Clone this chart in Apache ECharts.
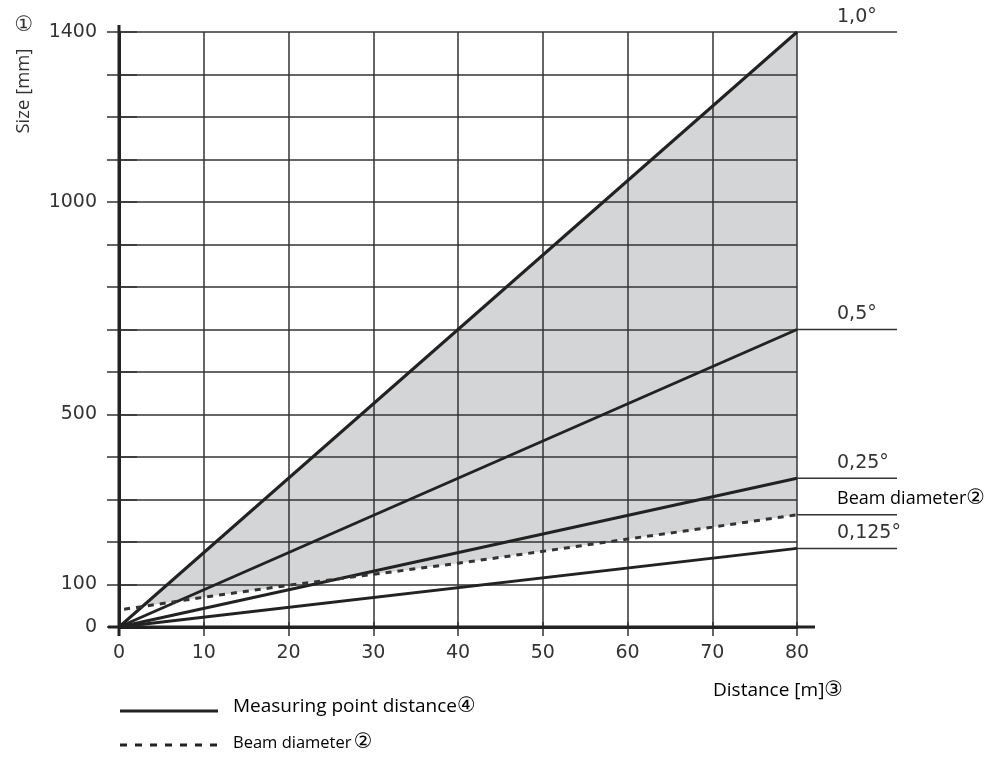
<!DOCTYPE html>
<html>
<head>
<meta charset="utf-8">
<script src="https://cdn.jsdelivr.net/npm/echarts/dist/echarts.min.js"></script>
<style>html,body{margin:0;padding:0;background:#fff}#c{width:1008px;height:758px}</style>
</head>
<body>
<div id="c"></div>
<script>
// ---- data ----
const maxDistance = 80;
const maxSize = 1400;
const sizeTickLabels = [0, 100, 500, 1000, 1400];
const angleNames = ['1,0°', '0,5°', '0,25°', '0,125°'];
const angleSizeAt80 = [1400, 700, 350, 185];
const beamDistance = [0.6, 2.75, 10, 20, 30, 40, 50, 60, 70, 80];
const beamSize = [42, 48, 70, 98, 124, 150, 178, 207, 235, 264];
const beamLabel = 'Beam diameter';
const fillStartDistance = 2.75;

const TXT = '#333';
const LINE = '#222';
const GRID = '#333';
const NUMFONT = "'DejaVu Sans', sans-serif";
const WORDFONT = "'Open Sans', 'DejaVu Sans', sans-serif";
const CIRC = {fontFamily: "'DejaVu Sans', sans-serif", fontSize: 21, color: TXT};

const chart = echarts.init(document.getElementById('c'), null, {renderer: 'canvas'});

const fillTop = [[fillStartDistance, beamSize[1]], [maxDistance, angleSizeAt80[0]]];
const fillBottom = beamDistance.map((d, i) => [d, beamSize[i]]).filter(p => p[0] >= fillStartDistance).reverse();

const angleSeries = angleSizeAt80.map((v, i) => ({
  type: 'line', name: angleNames[i], data: [[0, 0], [maxDistance, v]],
  symbol: 'none', silent: true, z: 5,
  lineStyle: {color: LINE, width: 3}
}));

const labelData = angleSizeAt80.map((v, i) => [maxDistance, v, i]).concat([[maxDistance, beamSize[beamSize.length - 1], 4]]);
const labelTexts = angleNames.concat([beamLabel]);

function wordText(x, y, words, circ, size, gap) {
  return {type: 'text', x: x, y: y, style: {
    text: '{w|' + words + '}' + (gap ? '{s| }' : '') + '{c|' + circ + '}',
    align: 'left', verticalAlign: 'middle',
    rich: {
      w: {fontFamily: WORDFONT, fontSize: size, color: TXT},
      s: {fontFamily: WORDFONT, fontSize: size * 0.5, color: TXT},
      c: CIRC
    }
  }};
}

const option = {
  animation: false,
  backgroundColor: '#fff',
  grid: {left: 119, right: 211, top: 32, bottom: 131},
  xAxis: [{
    type: 'value', min: 0, max: maxDistance, interval: 10, position: 'bottom',
    axisLine: {show: true, lineStyle: {color: LINE, width: 3}},
    axisTick: {show: true, inside: false, length: 9, lineStyle: {color: GRID, width: 1.5}},
    axisLabel: {color: TXT, fontSize: 19, fontFamily: NUMFONT, margin: 17},
    splitLine: {show: true, lineStyle: {color: GRID, width: 1.5}}
  }, {
    type: 'value', min: 0, max: maxDistance, interval: 10, position: 'top',
    axisLine: {show: false},
    axisTick: {show: true, inside: false, length: 5, lineStyle: {color: GRID, width: 1.5}},
    axisLabel: {show: false}, splitLine: {show: false}
  }],
  yAxis: [{
    type: 'value', min: 0, max: maxSize, interval: 100, position: 'left',
    axisLine: {show: true, lineStyle: {color: LINE, width: 3}},
    axisTick: {show: true, inside: false, length: 12, lineStyle: {color: GRID, width: 1.5}},
    axisLabel: {color: TXT, fontSize: 19, fontFamily: NUMFONT, margin: 22,
      formatter: v => sizeTickLabels.indexOf(v) >= 0 ? String(v) : ''},
    splitLine: {show: true, lineStyle: {color: GRID, width: 1.5}}
  }, {
    type: 'value', min: 0, max: maxSize, interval: 100, position: 'right',
    axisLine: {show: false},
    axisTick: {show: true, inside: false, length: 18, lineStyle: {color: GRID, width: 1.5}},
    axisLabel: {show: false}, splitLine: {show: false}
  }],
  series: [
    {
      type: 'custom', name: 'fill', silent: true, z: -10, clip: false,
      data: [[0, 0]],
      renderItem: function (params, api) {
        const pts = fillTop.concat(fillBottom).map(p => api.coord(p));
        return {type: 'polygon', shape: {points: pts}, style: {fill: '#d4d5d7', stroke: null}};
      }
    },
    ...angleSeries,
    {
      type: 'line', name: 'Beam diameter', data: beamDistance.map((d, i) => [d, beamSize[i]]),
      symbol: 'none', silent: true, z: 6,
      lineStyle: {color: '#333', width: 3, type: [6, 6]}
    },
    {
      type: 'custom', name: 'labels', silent: true, z: 4, clip: false,
      data: labelData,
      renderItem: function (params, api) {
        const p = api.coord([api.value(0), api.value(1)]);
        const idx = params.dataIndex;
        const lineEl = {type: 'line', shape: {x1: p[0], y1: p[1], x2: p[0] + 100, y2: p[1]},
          style: {stroke: GRID, lineWidth: 1.5}};
        let textEl;
        if (idx === 4) {
          textEl = wordText(p[0] + 40, p[1] - 16, labelTexts[idx], '②', 18, false);
        } else {
          textEl = {type: 'text', x: p[0] + 40, y: p[1] - 15,
            style: {text: labelTexts[idx], fill: TXT, verticalAlign: 'middle', align: 'left',
              font: '19px ' + NUMFONT}};
        }
        return {type: 'group', children: [lineEl, textEl]};
      }
    },
    {
      type: 'custom', name: 'frame', silent: true, z: 7, clip: false,
      data: [[0, 0]],
      renderItem: function (params, api) {
        const o = api.coord([0, 0]);
        const xe = api.coord([maxDistance, 0]);
        const yt = api.coord([0, maxSize]);
        return {type: 'group', children: [
          {type: 'line', shape: {x1: o[0] - 11, y1: o[1], x2: xe[0] + 18, y2: o[1]},
           style: {stroke: LINE, lineWidth: 3}},
          {type: 'line', shape: {x1: o[0], y1: o[1] + 9, x2: o[0], y2: yt[1] - 7},
           style: {stroke: LINE, lineWidth: 3}}
        ]};
      }
    }
  ],
  graphic: [
    {type: 'text', x: 24, y: 26, style: {text: '①', fill: TXT, font: "21px 'DejaVu Sans', sans-serif", align: 'center', verticalAlign: 'middle'}},
    {type: 'text', x: 24, y: 91, rotation: Math.PI / 2, style: {text: 'Size [mm]', fill: TXT, font: '18.5px ' + WORDFONT, align: 'center', verticalAlign: 'middle'}},
    wordText(713, 691, 'Distance [m]', '③', 19, false),
    {type: 'line', shape: {x1: 120, y1: 711, x2: 218, y2: 711}, style: {stroke: LINE, lineWidth: 3}},
    wordText(233, 707, 'Measuring point distance', '④', 19, false),
    {type: 'line', shape: {x1: 120, y1: 745, x2: 218, y2: 745}, style: {stroke: LINE, lineWidth: 3, lineDash: [7, 8]}},
    wordText(233, 743, 'Beam diameter', '②', 16.5, true)
  ]
};
chart.setOption(option);
</script>
</body>
</html>
